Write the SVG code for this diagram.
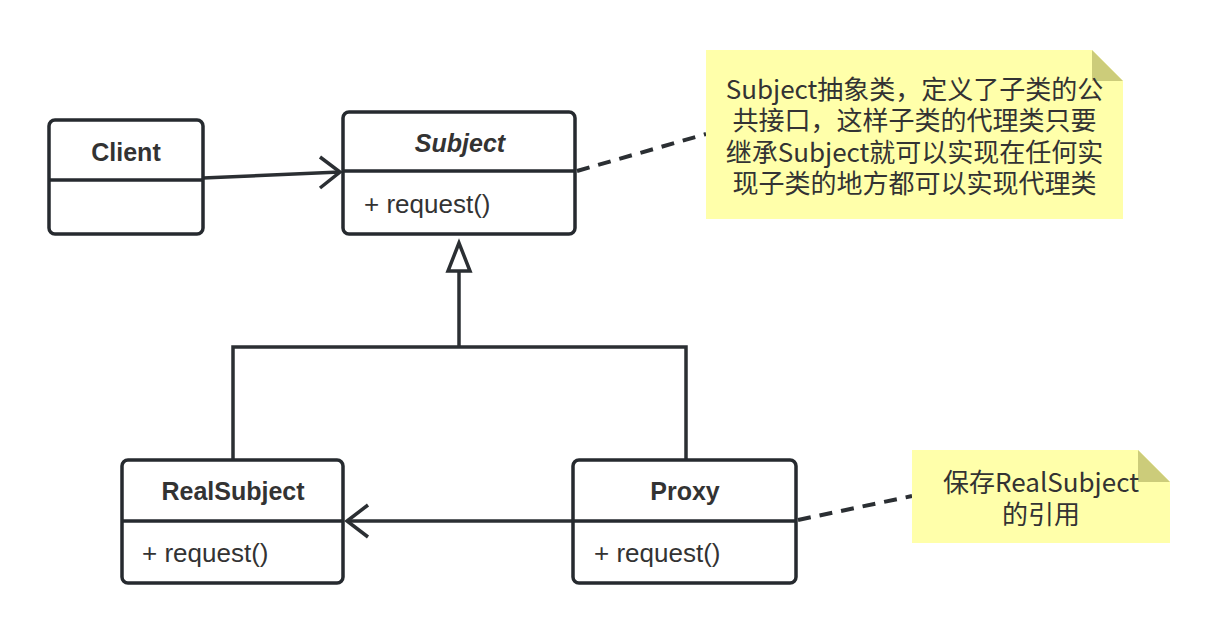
<svg xmlns="http://www.w3.org/2000/svg" width="1220" height="634" viewBox="0 0 1220 634">
<defs>
<style>
.box{fill:#ffffff;stroke:#262a2f;stroke-width:3.5}
.div{stroke:#262a2f;stroke-width:3.5}
.ttl{font-family:"Liberation Sans",Arial,sans-serif;font-weight:bold;font-size:25px;fill:#333333;text-anchor:middle}
.mth{font-family:"Liberation Sans",Arial,sans-serif;font-size:26px;fill:#333333}
.ln{fill:none;stroke:#2b2f33;stroke-width:3.5;stroke-linejoin:miter}
.dash{fill:none;stroke:#2b2f33;stroke-width:4;stroke-dasharray:13 9}
.note{fill:#ffffaa}
.fold{fill:#cccc7a}
.ntxt{font-family:"Noto Sans CJK SC","Noto Sans",sans-serif;font-size:26px;fill:#333333;text-anchor:middle}
</style>
</defs>
<rect width="1220" height="634" fill="#ffffff"/>

<g id="connectors">
  <!-- Client -> Subject association -->
  <line class="ln" x1="203" y1="178" x2="340" y2="172"/>
  <polyline class="ln" points="320,157 340,172 320,188"/>
  <!-- Inheritance -->
  <polyline class="ln" points="233,460 233,347 686,347 686,460"/>
  <line class="ln" x1="459" y1="347" x2="459" y2="271"/>
  <polygon class="ln" points="459,243 448,271 470,271" fill="#ffffff"/>
  <!-- Proxy -> RealSubject -->
  <line class="ln" x1="573" y1="521" x2="347" y2="521"/>
  <polyline class="ln" points="368,505 347,521 368,537"/>
  <!-- note links -->
  <line class="dash" x1="577" y1="171" x2="706" y2="134"/>
  <line class="dash" x1="798" y1="520" x2="912" y2="496"/>
</g>

<g id="client">
  <rect class="box" x="49" y="120" width="154" height="114" rx="6"/>
  <line class="div" x1="49" y1="180" x2="203" y2="180"/>
  <text class="ttl" x="126" y="161">Client</text>
</g>

<g id="subject">
  <rect class="box" x="343" y="112" width="232" height="122" rx="6"/>
  <line class="div" x1="343" y1="171" x2="575" y2="171"/>
  <text class="ttl" x="460" y="152" font-style="italic">Subject</text>
  <text class="mth" x="364" y="213">+ request()</text>
</g>

<g id="realsubject">
  <rect class="box" x="122" y="460" width="221" height="123" rx="6"/>
  <line class="div" x1="122" y1="521" x2="343" y2="521"/>
  <text class="ttl" x="233" y="500">RealSubject</text>
  <text class="mth" x="142" y="562">+ request()</text>
</g>

<g id="proxy">
  <rect class="box" x="573" y="460" width="223" height="123" rx="6"/>
  <line class="div" x1="573" y1="521" x2="796" y2="521"/>
  <text class="ttl" x="685" y="500">Proxy</text>
  <text class="mth" x="594" y="562">+ request()</text>
</g>

<g id="note-subject">
  <polygon class="note" points="706,50 1092,50 1123,81 1123,219 706,219"/>
  <polygon class="fold" points="1092,50 1123,81 1092,81"/>
  <text class="ntxt" x="914.5" y="99">Subject抽象类，定义了子类的公</text>
  <text class="ntxt" x="914.5" y="130">共接口，这样子类的代理类只要</text>
  <text class="ntxt" x="914.5" y="161.5">继承Subject就可以实现在任何实</text>
  <text class="ntxt" x="914.5" y="193">现子类的地方都可以实现代理类</text>
</g>

<g id="note-proxy">
  <polygon class="note" points="912,450 1138,450 1170,482 1170,543 912,543"/>
  <polygon class="fold" points="1138,450 1170,482 1138,482"/>
  <text class="ntxt" x="1041" y="492">保存RealSubject</text>
  <text class="ntxt" x="1041" y="524">的引用</text>
</g>
</svg>
